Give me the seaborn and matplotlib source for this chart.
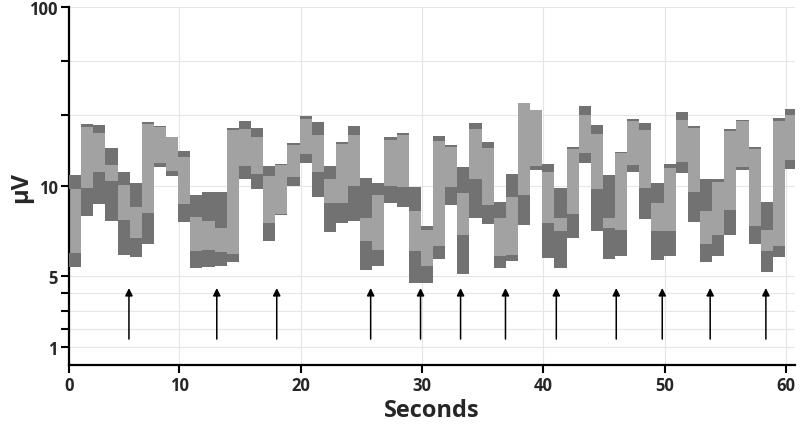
import matplotlib
matplotlib.use("Agg")
import matplotlib.pyplot as plt
import numpy as np
import seaborn as sns

# aEEG-style trace: one bin per second, amplitudes in microvolts
# upper band = [upper_low, upper_max], lower band = [lower_min, lower_high]
upper_max = [11.5, 22.3, 21.8, 16.3, 11.9, 10.4, 22.8, 21.5, 18.8, 15.6,
             9.47, 9.67, 9.64, 21.2, 23.0, 21.0, 13.0, 13.2, 17.4, 24.5,
             22.8, 12.9, 17.7, 21.5, 11.1, 10.4, 18.9, 19.9, 9.96, 7.79,
             19.1, 17.0, 12.7, 22.5, 17.6, 9.13, 11.7, 29.1, 26.7, 13.3,
             9.91, 16.6, 28.0, 22.0, 11.5, 15.5, 23.7, 22.4, 10.4, 13.3,
             25.9, 21.5, 11.0, 10.9, 20.8, 23.5, 16.5, 9.08, 23.9, 26.8]
upper_low = [9.86, 21.4, 19.9, 13.1, 10.1, 8.82, 22.2, 21.3, 18.7, 14.5,
             8.28, 8.02, 7.65, 20.6, 20.8, 18.7, 11.4, 13.1, 16.9, 23.6,
             19.2, 11.0, 17.2, 19.2, 8.21, 9.50, 18.1, 19.3, 8.59, 7.53,
             17.8, 16.6, 9.59, 20.8, 16.4, 8.24, 9.41, 29.0, 26.6, 12.0,
             8.21, 16.1, 24.8, 19.4, 8.23, 15.2, 23.0, 20.6, 9.07, 12.6,
             23.5, 21.0, 8.62, 10.5, 20.3, 23.0, 16.0, 7.56, 23.2, 24.8]
lower_high = [6.26, 9.89, 12.0, 10.7, 8.11, 7.09, 8.47, 13.5, 12.1, 8.98,
              6.35, 6.44, 6.33, 6.22, 13.0, 11.7, 7.91, 8.41, 11.3, 15.1,
              11.9, 9.04, 9.04, 10.0, 6.91, 6.44, 10.0, 9.94, 6.35, 5.52,
              6.63, 9.96, 7.28, 11.0, 8.93, 6.10, 6.14, 9.50, 13.0, 7.93,
              7.46, 8.43, 15.3, 9.82, 7.65, 7.56, 13.1, 9.91, 7.51, 7.51,
              13.6, 9.64, 6.78, 7.28, 8.67, 12.7, 7.76, 6.35, 6.67, 13.9]
lower_min = [5.50, 8.33, 8.98, 8.06, 6.14, 6.06, 6.75, 12.8, 11.4, 7.97,
             5.44, 5.50, 5.52, 5.75, 11.0, 9.82, 6.94, 8.37, 10.0, 13.5,
             9.36, 7.42, 7.93, 8.07, 5.28, 5.53, 9.06, 8.85, 4.59, 4.59,
             5.93, 8.94, 5.09, 8.21, 7.87, 5.43, 5.79, 7.83, 12.3, 5.98,
             5.43, 7.12, 13.4, 7.46, 5.93, 6.09, 12.0, 8.16, 5.84, 6.07,
             11.8, 7.97, 5.78, 6.11, 7.28, 12.3, 6.78, 5.19, 6.06, 12.5]

first_bin = 0.92          # seconds, where the trace starts
arrow_times = [5.86, 13.1, 18.04, 25.78, 29.89, 33.19, 36.89, 41.08,
               46.02, 49.81, 53.76, 58.35]
arrow_tail, arrow_head = 1.45, 4.3   # microvolts

y_major = [1, 5, 10, 100]
y_minor = [2, 3, 4, 25, 50]
x_ticks = [10, 20, 30, 40, 50, 60]

LIGHT = "#a2a2a2"
DARK = "#727272"


# linear 0-10 uV, logarithmic 10-100 uV (classic aEEG amplitude axis)
def fwd(v):
    v = np.asarray(v, dtype=float)
    return np.where(v <= 10, v, 10 + 10 * np.log10(np.maximum(v, 1e-9) / 10))


def inv(y):
    y = np.asarray(y, dtype=float)
    return np.where(y <= 10, y, 10 * 10 ** ((y - 10) / 10))


sns.set_theme(style="white")
plt.rcParams["font.family"] = ["Open Sans", "DejaVu Sans"]
plt.rcParams["font.weight"] = "bold"

fig = plt.figure(figsize=(8, 4.35), dpi=100)
ax = fig.add_axes([0.08625, 0.1586, 0.9075, 0.823])
ax.set_yscale("function", functions=(fwd, inv))

t1 = np.array(upper_max)
t0 = np.array(upper_low)
b1 = np.array(lower_high)
b0 = np.array(lower_min)
x = first_bin + np.arange(len(t1))

ax.bar(x, t1 - b0, bottom=b0, width=1.0, align="edge", color=LIGHT, linewidth=0, zorder=2)
ax.bar(x, t1 - t0, bottom=t0, width=1.0, align="edge", color=DARK, linewidth=0, zorder=3)
ax.bar(x, b1 - b0, bottom=b0, width=1.0, align="edge", color=DARK, linewidth=0, zorder=3)

for t in arrow_times:
    ax.annotate("", xy=(t, arrow_head), xytext=(t, arrow_tail),
                arrowprops=dict(arrowstyle="-|>", color="black", lw=1.1,
                                mutation_scale=11, shrinkA=0, shrinkB=0),
                zorder=4)

ax.set_xlim(first_bin, 60.75)
ax.set_ylim(0, 100)

ax.set_xticks([first_bin] + x_ticks)
ax.set_xticklabels(["0"] + [str(v) for v in x_ticks])
ax.set_yticks(y_major)
ax.set_yticklabels([str(v) for v in y_major])
ax.set_yticks(y_minor, minor=True)
ax.set_yticklabels([], minor=True)

ax.grid(True, which="both", axis="y", color="#e6e6e6", lw=0.8, zorder=0)
ax.grid(True, which="major", axis="x", color="#e6e6e6", lw=0.8, zorder=0)
ax.set_axisbelow(True)

for side in ["top", "right"]:
    ax.spines[side].set_visible(False)
for side in ["left", "bottom"]:
    ax.spines[side].set_color("black")
    ax.spines[side].set_linewidth(1.6)

ax.tick_params(axis="both", which="both", direction="out", length=6, width=1.5,
               color="black", labelsize=12, pad=2, left=True, bottom=True)
for lab in ax.get_xticklabels() + ax.get_yticklabels():
    lab.set_fontweight("bold")

ax.set_xlabel("Seconds", fontsize=17, fontweight="bold", va="center")
ax.xaxis.set_label_coords(0.5, -0.126)
ax.set_ylabel("\u03bcV", fontsize=17, fontweight="bold", va="center")
ax.yaxis.set_label_coords(-0.066, 0.5)

fig.savefig("out.png", dpi=100)
